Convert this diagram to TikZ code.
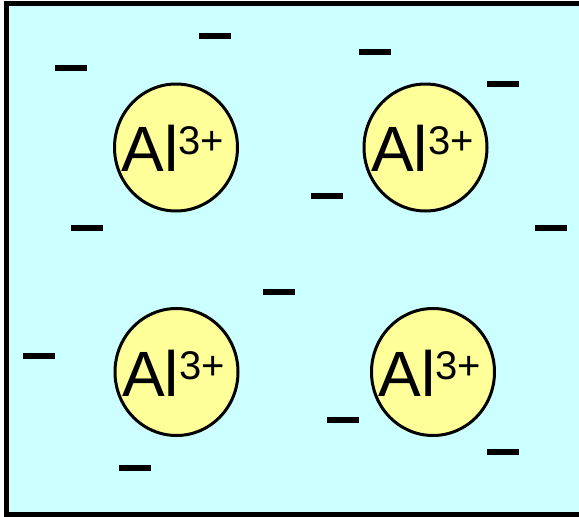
\documentclass[tikz,border=0pt]{standalone}
\usepackage{fontspec}
\setmainfont{Liberation Sans}
\usetikzlibrary{shapes.geometric}
\definecolor{water}{HTML}{CCFFFF}
\definecolor{ion}{HTML}{FFFF99}
\tikzset{
  ionbox/.style={ellipse, draw=black, line width=3pt, fill=ion,
    minimum width=123pt, minimum height=127pt, inner sep=0pt},
  ionlabel/.style={anchor=base, inner sep=0pt, text=black},
  minusbar/.style={fill=black, draw=none, rectangle, minimum width=32pt,
    minimum height=5.5pt, inner sep=0pt}
}
\newcommand{\alion}{\fontsize{64pt}{64pt}\selectfont Al\raisebox{17pt}{\fontsize{40pt}{40pt}\selectfont 3+}}
\begin{document}
\begin{tikzpicture}[x=1pt,y=-1pt]
\useasboundingbox (0,0) rectangle (579,517);
\begin{scope}
\clip (0,0) rectangle (579,517);
\draw[line width=5pt, fill=water] (6.5,3.5) rectangle (600,514.5);
\end{scope}
% ions
\node[ionbox] (c1) at (176,147.5) {};
\node[ionbox] (c2) at (425.5,147.5) {};
\node[ionbox] (c3) at (176.5,372) {};
\node[ionbox] (c4) at (433,372) {};
\node[ionlabel] (t1) at (173,171.5) {\alion};
\node[ionlabel] (t2) at (422.5,171.5) {\alion};
\node[ionlabel] (t3) at (173.5,396) {\alion};
\node[ionlabel] (t4) at (430,396) {\alion};
% minus charges
\node[minusbar] (m1) at (215,36) {};
\node[minusbar] (m2) at (71,68) {};
\node[minusbar] (m3) at (375,52) {};
\node[minusbar] (m4) at (503,84) {};
\node[minusbar] (m5) at (327,196) {};
\node[minusbar] (m6) at (87,228) {};
\node[minusbar] (m7) at (551,228) {};
\node[minusbar] (m8) at (279,292) {};
\node[minusbar] (m9) at (39,356) {};
\node[minusbar] (m10) at (343,420) {};
\node[minusbar] (m11) at (135,468) {};
\node[minusbar] (m12) at (503,452) {};
\end{tikzpicture}
\end{document}
